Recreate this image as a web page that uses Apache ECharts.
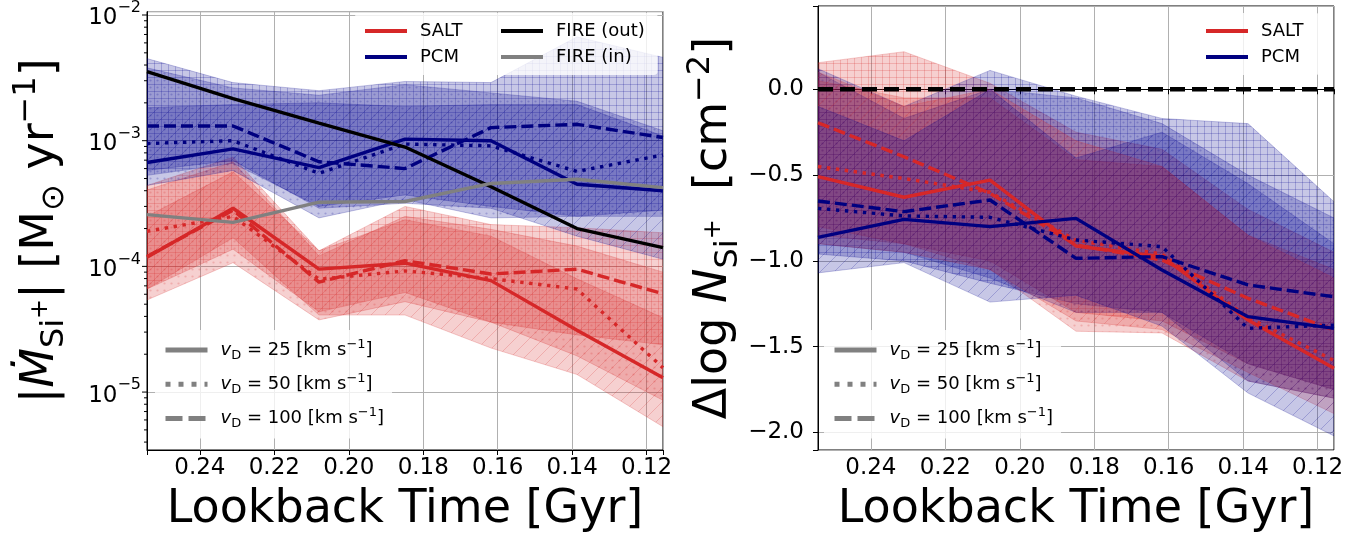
<!DOCTYPE html>
<html>
<head>
<meta charset="utf-8">
<script src="https://cdn.jsdelivr.net/npm/echarts@6/dist/echarts.min.js"></script>
<style>
  html, body { margin: 0; padding: 0; background: #ffffff; }
  #chart { width: 1364px; height: 538px; }
</style>
</head>
<body>
<div id="chart"></div>
<script>
// ---------------- data ----------------
// Lookback time of each snapshot [Gyr]
const TIME = [0.2542, 0.2311, 0.2080, 0.1849, 0.1618, 0.1387, 0.1156];
const T_MIN = 0.1156, T_MAX = 0.2542;
const X_TICKS = [0.12, 0.14, 0.16, 0.18, 0.20, 0.22, 0.24];
const X_TICK_LABELS = ['0.12', '0.14', '0.16', '0.18', '0.20', '0.22', '0.24'];

// Left panel: |Mdot_Si+| [Msun / yr] (log axis)
const MDOT_MIN = 3.46e-6, MDOT_MAX = 1.064e-2;
const MDOT_TICK_EXPONENTS = [-5, -4, -3, -2];

const FIRE_OUT = [3.55e-3, 2.16e-3, 1.38e-3, 8.9e-4, 4.3e-4, 2.0e-4, 1.41e-4];
const FIRE_IN  = [2.58e-4, 2.24e-4, 3.24e-4, 3.28e-4, 4.57e-4, 4.94e-4, 4.23e-4];

const PCM_MDOT_25  = [6.7e-4, 8.6e-4, 6.1e-4, 1.03e-3, 1.0e-3, 4.5e-4, 4.0e-4];
const PCM_MDOT_50  = [9.5e-4, 1.0e-3, 5.5e-4, 9.4e-4, 9.1e-4, 5.7e-4, 7.7e-4];
const PCM_MDOT_100 = [1.31e-3, 1.31e-3, 6.8e-4, 6.0e-4, 1.27e-3, 1.35e-3, 1.06e-3];
const SALT_MDOT_25  = [1.18e-4, 2.9e-4, 9.5e-5, 1.06e-4, 7.7e-5, 3.1e-5, 1.3e-5];
const SALT_MDOT_50  = [1.9e-4, 2.5e-4, 7.9e-5, 9.2e-5, 8.0e-5, 6.6e-5, 1.56e-5];
const SALT_MDOT_100 = [1.2e-4, 2.8e-4, 7.5e-5, 1.11e-4, 8.7e-5, 9.5e-5, 6.05e-5];

// 16th-84th percentile ranges
const PCM_MDOT_25_LO  = [5.8e-4, 6.97e-4, 2.9e-4, 3.18e-4, 2.9e-4, 1.74e-4, 1.14e-4];
const PCM_MDOT_25_HI  = [1.83e-3, 1.94e-3, 2.0e-3, 1.87e-3, 1.94e-3, 1.94e-3, 1.09e-3];
const PCM_MDOT_50_LO  = [4.4e-4, 5.8e-4, 2.43e-4, 3.4e-4, 2.43e-4, 2.5e-4, 2.5e-4];
const PCM_MDOT_50_HI  = [3.8e-3, 2.63e-3, 2.3e-3, 2.79e-3, 2.4e-3, 2.06e-3, 1.2e-3];
const PCM_MDOT_100_LO = [5.3e-4, 6.6e-4, 3.0e-4, 3.7e-4, 3.0e-4, 2.5e-4, 2.8e-4];
const PCM_MDOT_100_HI = [4.5e-3, 2.9e-3, 2.5e-3, 2.96e-3, 2.9e-3, 6.7e-3, 4.6e-3];

const SALT_MDOT_25_LO  = [6.6e-5, 1.69e-4, 4.1e-5, 4.1e-5, 2.24e-5, 1.38e-5, 5.3e-6];
const SALT_MDOT_25_HI  = [2.5e-4, 5.65e-4, 1.33e-4, 2.35e-4, 1.74e-4, 7.96e-5, 3.9e-5];
const SALT_MDOT_50_LO  = [5.4e-5, 1.07e-4, 3.75e-5, 5.24e-5, 3.6e-5, 1.94e-5, 8.6e-6];
const SALT_MDOT_50_HI  = [4.05e-4, 6.76e-4, 1.21e-4, 2.5e-4, 1.97e-4, 1.45e-4, 9.0e-5];
const SALT_MDOT_100_LO = [6.6e-5, 1.37e-4, 4.35e-5, 6.2e-5, 3.6e-5, 2.85e-5, 2.38e-5];
const SALT_MDOT_100_HI = [4.4e-4, 7.4e-4, 1.33e-4, 3.0e-4, 2.15e-4, 2.03e-4, 1.85e-4];

// Right panel: Delta log N_Si+ [cm^-2]
const DN_MIN = -2.102, DN_MAX = 0.4854;
const DN_TICKS = [-2.0, -1.5, -1.0, -0.5, 0.0];
const DN_TICK_LABELS = ['\u22122.0', '\u22121.5', '\u22121.0', '\u22120.5', '0.0'];
const DN_REFERENCE = [0, 0];

const PCM_DN_25  = [-0.863, -0.758, -0.80, -0.752, -1.053, -1.325, -1.393];
const PCM_DN_50  = [-0.694, -0.738, -0.746, -0.878, -0.917, -1.393, -1.374];
const PCM_DN_100 = [-0.651, -0.713, -0.645, -0.985, -0.975, -1.14, -1.209];
const SALT_DN_25  = [-0.509, -0.629, -0.529, -0.913, -0.975, -1.345, -1.626];
const SALT_DN_50  = [-0.45, -0.52, -0.60, -0.88, -0.96, -1.33, -1.58];
const SALT_DN_100 = [-0.195, -0.393, -0.606, -0.907, -0.995, -1.218, -1.403];

const PCM_DN_25_LO  = [-1.07, -1.01, -1.24, -1.20, -1.38, -1.77, -2.02];
const PCM_DN_25_HI  = [-0.10, -0.30, 0.0, -0.40, -0.25, -0.55, -0.90];
const PCM_DN_50_LO  = [-0.90, -0.95, -1.10, -1.30, -1.30, -1.70, -1.80];
const PCM_DN_50_HI  = [0.10, -0.17, 0.0, -0.05, -0.20, -0.50, -0.75];
const PCM_DN_100_LO = [-0.96, -1.0, -1.13, -1.25, -1.30, -1.60, -1.75];
const PCM_DN_100_HI = [0.12, -0.10, 0.11, -0.04, -0.17, -0.20, -0.655];

const SALT_DN_25_LO  = [-0.90, -0.95, -1.05, -1.35, -1.40, -1.65, -1.89];
const SALT_DN_25_HI  = [0.10, -0.10, 0.0, -0.30, -0.45, -0.85, -1.10];
const SALT_DN_50_LO  = [-0.80, -0.90, -1.05, -1.41, -1.42, -1.70, -1.80];
const SALT_DN_50_HI  = [0.05, -0.05, -0.05, -0.41, -0.45, -0.85, -1.05];
const SALT_DN_100_LO = [-0.85, -0.90, -1.0, -1.30, -1.35, -1.60, -1.75];
const SALT_DN_100_HI = [0.155, 0.219, 0.035, -0.25, -0.35, -0.70, -0.95];

// ---------------- styling ----------------
const FONT = 'DejaVu Sans';
const RED = '#d62728', RED_RGB = [214, 39, 40];
const NAVY = '#000080', NAVY_RGB = [0, 0, 139];
const GREY = '#808080';
const BAND_ALPHA = 0.22;
const LINE_WIDTH = 3.4;
const DASH = { solid: 'solid', dotted: [3.4, 5.6], dashed: [12, 5] };

function rgba(rgb, a) { return 'rgba(' + rgb[0] + ',' + rgb[1] + ',' + rgb[2] + ',' + a + ')'; }

// hatched, translucent fill: grid for 100 km/s, dots for 50 km/s, diagonals for 25 km/s
function hatchFill(rgb, kind) {
  const s = kind === 'diag' ? 14 : 7;
  const c = document.createElement('canvas');
  c.width = s; c.height = s;
  const g = c.getContext('2d');
  const col = rgba(rgb, BAND_ALPHA);
  g.fillStyle = col; g.fillRect(0, 0, s, s);
  g.strokeStyle = col; g.lineWidth = 1;
  g.beginPath();
  if (kind === 'grid') {
    g.moveTo(0.5, 0); g.lineTo(0.5, s);
    g.moveTo(0, 0.5); g.lineTo(s, 0.5);
    g.stroke();
  } else if (kind === 'dots') {
    g.arc(s / 2, s / 2, 1.1, 0, Math.PI * 2);
    g.fillStyle = col; g.fill();
  } else {
    g.moveTo(-1, s + 1); g.lineTo(s + 1, -1);
    g.moveTo(-1, 1); g.lineTo(1, -1);
    g.moveTo(s - 1, s + 1); g.lineTo(s + 1, s - 1);
    g.stroke();
  }
  return { image: c, repeat: 'repeat' };
}

function band(panel, lo, hi, rgb, kind) {
  const fill = hatchFill(rgb, kind);
  return {
    type: 'custom', xAxisIndex: panel, yAxisIndex: panel, clip: true, silent: true, z: 2,
    data: TIME.map((t, i) => [t, lo[i], hi[i]]),
    encode: { x: 0, y: [1, 2] },
    renderItem: function (params, api) {
      if (params.dataIndex !== 0) return null;
      const upper = TIME.map((t, i) => api.coord([t, hi[i]]));
      const lower = TIME.map((t, i) => api.coord([t, lo[i]])).reverse();
      return {
        type: 'polygon',
        shape: { points: upper.concat(lower) },
        style: { fill: fill, stroke: rgba(rgb, BAND_ALPHA), lineWidth: 1 }
      };
    }
  };
}

function curve(name, panel, values, color, dash, width) {
  return {
    name: name, type: 'line', xAxisIndex: panel, yAxisIndex: panel,
    data: TIME.map((t, i) => [t, values[i]]),
    symbol: 'none', showSymbol: false, silent: true, z: 4,
    lineStyle: { color: color, width: width || LINE_WIDTH, type: dash, cap: 'butt' },
    itemStyle: { color: color }
  };
}

// legend-only entries for the drift-velocity line styles
const VD_NAMES = ['vD25', 'vD50', 'vD100'];
const VD_VALUES = ['25', '50', '100'];
const VD_DASH = ['solid', [5, 8], [17, 6]];
function vdLabel(name) {
  const v = VD_VALUES[VD_NAMES.indexOf(name)];
  return '{vi|v}{vs|D}{t| = ' + v + ' [km s}{vp|\u22121}{t|]}';
}
const VD_RICH = {
  vi: { fontSize: 18, fontStyle: 'italic', lineHeight: 24, fontFamily: FONT, color: '#000' },
  vs: { fontSize: 13, lineHeight: 14, verticalAlign: 'bottom', fontFamily: FONT, color: '#000' },
  t: { fontSize: 18, lineHeight: 24, fontFamily: FONT, color: '#000' },
  vp: { fontSize: 13, lineHeight: 14, verticalAlign: 'top', fontFamily: FONT, color: '#000' }
};

// log-axis tick marks (majors at decades, minors at 2..9)
const LOG_TICKS = [];
for (let d = -6; d <= -2; d++) {
  for (let m = 1; m <= 9; m++) {
    const v = m * Math.pow(10, d);
    if (v >= MDOT_MIN && v <= MDOT_MAX) LOG_TICKS.push([m === 1 ? 5 : 3, v]);
  }
}
const logTickSeries = {
  type: 'custom', xAxisIndex: 0, yAxisIndex: 0, clip: false, silent: true, z: 6,
  data: LOG_TICKS.map(d => [T_MAX, d[1], d[0]]),
  encode: { x: 0, y: 1 },
  renderItem: function (params, api) {
    const p = api.coord([api.value(0), api.value(1)]);
    const len = api.value(2);
    return { type: 'line', shape: { x1: p[0] - len, y1: p[1], x2: p[0], y2: p[1] },
             style: { stroke: '#000', lineWidth: 1 } };
  }
};

function xTickLabel(v) {
  for (let i = 0; i < X_TICKS.length; i++) if (Math.abs(v - X_TICKS[i]) < 1e-6) return X_TICK_LABELS[i];
  return '';
}

function xAxis(idx) {
  return {
    type: 'value', gridIndex: idx, inverse: true, min: T_MIN, max: T_MAX, splitNumber: 7,
    axisLine: { show: true, lineStyle: { color: '#000', width: 1 } },
    axisTick: { show: true, length: 5, lineStyle: { color: '#000', width: 1 } },
    axisLabel: { fontSize: 23, fontFamily: FONT, color: '#000', margin: 7, formatter: xTickLabel },
    splitLine: { show: true, lineStyle: { color: '#b0b0b0', width: 1 } },
    name: 'Lookback Time [Gyr]', nameLocation: 'middle', nameGap: 37,
    nameTextStyle: { fontSize: 46, fontFamily: FONT, color: '#000' }
  };
}

const NAME_RICH = {
  n: { fontSize: 46, lineHeight: 60, fontFamily: FONT, color: '#000' },
  i: { fontSize: 46, lineHeight: 60, fontStyle: 'italic', fontFamily: FONT, color: '#000' },
  sb: { fontSize: 32, lineHeight: 36, verticalAlign: 'bottom', fontFamily: FONT, color: '#000' },
  sbp: { fontSize: 24, lineHeight: 60, verticalAlign: 'middle', fontFamily: FONT, color: '#000' },
  sp: { fontSize: 32, lineHeight: 36, verticalAlign: 'top', fontFamily: FONT, color: '#000' }
};

const LEGEND_TEXT = { fontSize: 18, fontFamily: FONT, color: '#000', lineHeight: 20, padding: [0, 0, 0, 8] };
const LEGEND_BG = 'rgba(255,255,255,0.8)';
// line-only legend handles
const NO_MARKER = { color: 'rgba(0,0,0,0)', borderColor: 'rgba(0,0,0,0)', borderWidth: 0, opacity: 0 };

const option = {
  animation: false,
  backgroundColor: '#ffffff',
  grid: [
    { left: 147, top: 6, width: 516, height: 444, show: true, borderColor: '#000', borderWidth: 1, backgroundColor: 'transparent' },
    { left: 818, top: 6, width: 516, height: 444, show: true, borderColor: '#000', borderWidth: 1, backgroundColor: 'transparent' }
  ],
  xAxis: [xAxis(0), xAxis(1)],
  yAxis: [
    {
      type: 'log', logBase: 10, gridIndex: 0, min: MDOT_MIN, max: MDOT_MAX,
      axisLine: { show: true, lineStyle: { color: '#000' } },
      axisTick: { show: false },
      axisLabel: {
        margin: 6, fontFamily: FONT, color: '#000',
        formatter: function (v) {
          const e = Math.log10(v), r = Math.round(e);
          if (Math.abs(e - r) > 0.01 || MDOT_TICK_EXPONENTS.indexOf(r) < 0) return '';
          return '{m|10}{e|\u2212' + Math.abs(r) + '}';
        },
        rich: {
          m: { fontSize: 23, lineHeight: 30, verticalAlign: 'bottom', fontFamily: FONT, color: '#000' },
          e: { fontSize: 16, lineHeight: 18, verticalAlign: 'top', fontFamily: FONT, color: '#000' }
        }
      },
      splitLine: { show: true, lineStyle: { color: '#b0b0b0', width: 1 } },
      name: '{n||}{i|\u1E40}{sb|Si}{sbp|+}{n|| [M}{sb|\u2299}{n| yr}{sp|\u22121}{n|]}',
      nameLocation: 'middle', nameGap: 76, nameRotate: 90,
      nameTextStyle: { fontSize: 46, fontFamily: FONT, color: '#000', rich: NAME_RICH }
    },
    {
      type: 'value', gridIndex: 1, min: DN_MIN, max: DN_MAX, splitNumber: 5,
      axisLine: { show: true, lineStyle: { color: '#000' } },
      axisTick: { show: true, length: 5, lineStyle: { color: '#000' } },
      axisLabel: {
        margin: 14, fontSize: 23, fontFamily: FONT, color: '#000',
        formatter: function (v) {
          for (let i = 0; i < DN_TICKS.length; i++) if (Math.abs(v - DN_TICKS[i]) < 1e-6) return DN_TICK_LABELS[i];
          return '';
        }
      },
      splitLine: { show: true, lineStyle: { color: '#b0b0b0', width: 1 } },
      name: '{n|\u0394log }{i|N}{sb|Si}{sbp|+}{n|  [cm}{sp|\u22122}{n|]}',
      nameLocation: 'middle', nameGap: 70, nameRotate: 90,
      nameTextStyle: { fontSize: 46, fontFamily: FONT, color: '#000', rich: NAME_RICH }
    }
  ],
  legend: [
    { data: ['SALT', 'PCM'], orient: 'vertical', left: 355, top: 13, itemWidth: 42, itemHeight: 20, itemGap: 6,
      padding: [8, 195, 8, 8], backgroundColor: LEGEND_BG, borderRadius: 4,
      textStyle: LEGEND_TEXT, lineStyle: { width: 4 }, itemStyle: NO_MARKER, selectedMode: false, z: 10 },
    { data: ['FIRE (out)', 'FIRE (in)'], orient: 'vertical', left: 499, top: 21, itemWidth: 42, itemHeight: 20, itemGap: 6,
      padding: 0, textStyle: LEGEND_TEXT, lineStyle: { width: 4 }, itemStyle: NO_MARKER, selectedMode: false, z: 11 },
    { data: VD_NAMES, orient: 'vertical', left: 155, top: 330, itemWidth: 42, itemHeight: 24, itemGap: 10.3,
      padding: [8, 8, 8, 8], backgroundColor: LEGEND_BG, borderRadius: 4,
      formatter: vdLabel, textStyle: Object.assign({}, LEGEND_TEXT, { lineHeight: 24, rich: VD_RICH }),
      lineStyle: { width: 5 }, itemStyle: NO_MARKER, selectedMode: false, z: 10 },
    { data: ['SALT', 'PCM'], orient: 'vertical', left: 1196, top: 13, itemWidth: 42, itemHeight: 20, itemGap: 6,
      padding: [8, 16, 8, 8], backgroundColor: LEGEND_BG, borderRadius: 4,
      textStyle: LEGEND_TEXT, lineStyle: { width: 4 }, itemStyle: NO_MARKER, selectedMode: false, z: 10 },
    { data: VD_NAMES, orient: 'vertical', left: 824, top: 330, itemWidth: 42, itemHeight: 24, itemGap: 10.3,
      padding: [8, 8, 8, 8], backgroundColor: LEGEND_BG, borderRadius: 4,
      formatter: vdLabel, textStyle: Object.assign({}, LEGEND_TEXT, { lineHeight: 24, rich: VD_RICH }),
      lineStyle: { width: 5 }, itemStyle: NO_MARKER, selectedMode: false, z: 10 }
  ],
  series: [
    // left panel bands
    band(0, SALT_MDOT_100_LO, SALT_MDOT_100_HI, RED_RGB, 'grid'),
    band(0, PCM_MDOT_100_LO, PCM_MDOT_100_HI, NAVY_RGB, 'grid'),
    band(0, SALT_MDOT_50_LO, SALT_MDOT_50_HI, RED_RGB, 'dots'),
    band(0, PCM_MDOT_50_LO, PCM_MDOT_50_HI, NAVY_RGB, 'dots'),
    band(0, SALT_MDOT_25_LO, SALT_MDOT_25_HI, RED_RGB, 'diag'),
    band(0, PCM_MDOT_25_LO, PCM_MDOT_25_HI, NAVY_RGB, 'diag'),
    // right panel bands
    band(1, SALT_DN_100_LO, SALT_DN_100_HI, RED_RGB, 'grid'),
    band(1, PCM_DN_100_LO, PCM_DN_100_HI, NAVY_RGB, 'grid'),
    band(1, SALT_DN_50_LO, SALT_DN_50_HI, RED_RGB, 'dots'),
    band(1, PCM_DN_50_LO, PCM_DN_50_HI, NAVY_RGB, 'dots'),
    band(1, SALT_DN_25_LO, SALT_DN_25_HI, RED_RGB, 'diag'),
    band(1, PCM_DN_25_LO, PCM_DN_25_HI, NAVY_RGB, 'diag'),
    logTickSeries,
    // left panel lines
    curve('PCM', 0, PCM_MDOT_25, NAVY, DASH.solid),
    curve('PCM 50', 0, PCM_MDOT_50, NAVY, DASH.dotted),
    curve('PCM 100', 0, PCM_MDOT_100, NAVY, DASH.dashed),
    curve('SALT', 0, SALT_MDOT_25, RED, DASH.solid),
    curve('SALT 50', 0, SALT_MDOT_50, RED, DASH.dotted),
    curve('SALT 100', 0, SALT_MDOT_100, RED, DASH.dashed),
    curve('FIRE (out)', 0, FIRE_OUT, '#000000', DASH.solid),
    curve('FIRE (in)', 0, FIRE_IN, GREY, DASH.solid),
    // right panel lines
    curve('SALT', 1, SALT_DN_25, RED, DASH.solid),
    curve('SALT 50', 1, SALT_DN_50, RED, DASH.dotted),
    curve('SALT 100', 1, SALT_DN_100, RED, DASH.dashed),
    curve('PCM', 1, PCM_DN_25, NAVY, DASH.solid),
    curve('PCM 50', 1, PCM_DN_50, NAVY, DASH.dotted),
    curve('PCM 100', 1, PCM_DN_100, NAVY, DASH.dashed),
    {
      name: 'reference', type: 'line', xAxisIndex: 1, yAxisIndex: 1,
      data: [[T_MAX, DN_REFERENCE[0]], [T_MIN, DN_REFERENCE[1]]],
      symbol: 'none', silent: true, z: 5,
      lineStyle: { color: '#000', width: 4.5, type: [15, 7], cap: 'butt' }
    },
    // legend entries for drift velocity
    { name: 'vD25', type: 'line', xAxisIndex: 0, yAxisIndex: 0, data: [], symbol: 'none',
      lineStyle: { color: GREY, width: 5, type: VD_DASH[0], cap: 'butt' }, itemStyle: { color: GREY } },
    { name: 'vD50', type: 'line', xAxisIndex: 0, yAxisIndex: 0, data: [], symbol: 'none',
      lineStyle: { color: GREY, width: 5, type: VD_DASH[1], cap: 'butt' }, itemStyle: { color: GREY } },
    { name: 'vD100', type: 'line', xAxisIndex: 0, yAxisIndex: 0, data: [], symbol: 'none',
      lineStyle: { color: GREY, width: 5, type: VD_DASH[2], cap: 'butt' }, itemStyle: { color: GREY } }
  ]
};

const chart = echarts.init(document.getElementById('chart'), null, { renderer: 'canvas' });
chart.setOption(option);
</script>
</body>
</html>
